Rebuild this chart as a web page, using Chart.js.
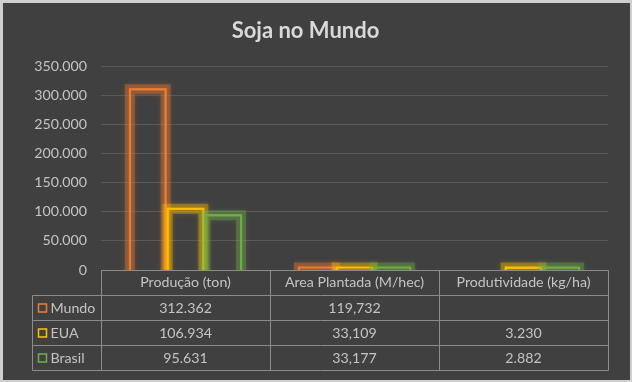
<!DOCTYPE html>
<html>
<head>
<meta charset="utf-8">
<script src="https://cdn.jsdelivr.net/npm/chart.js@4/dist/chart.umd.min.js"></script>
<style>
  html, body { margin: 0; padding: 0; background: #cfcfcf; width: 632px; height: 382px; overflow: hidden; }
  #wrap { position: absolute; left: 3px; top: 3px; width: 627px; height: 377px; background: #404040; }
  canvas { display: block; }
</style>
</head>
<body>
<div id="wrap"><canvas id="c" width="627" height="377"></canvas></div>
<script>
// ---- data ----
const categories = ['Produção (ton)', 'Area Plantada (M/hec)', 'Produtividade (kg/ha)'];
const seriesNames = ['Mundo', 'EUA', 'Brasil'];
const mundo  = [312362, 119.732, null];
const eua    = [106934, 33.109, 3230];
const brasil = [95631, 33.177, 2882];
const categoryDecimals = [0, 3, 0];
const yMax = 350000;
const yStep = 50000;
const chartTitle = 'Soja no Mundo';

// ---- style ----
const seriesColors = ['#ED7D31', '#FFC000', '#70AD47'];
const textColor = '#c4c4c4';
const titleColor = '#d9d9d9';
const gridColor = '#595959';
const tableLine = '#8c8c8c';
const FONT = 'Lato, "Open Sans", sans-serif';
const TEXT_SIZE = 14.2;

function fmt(v, d) {
  if (v === null || v === undefined) return '';
  if (d > 0) return v.toFixed(d).replace('.', ',');
  return String(Math.round(v)).replace(/\B(?=(\d{3})+(?!\d))/g, '.');
}
function rgba(hex, a) {
  const n = parseInt(hex.slice(1), 16);
  return `rgba(${(n >> 16) & 255},${(n >> 8) & 255},${n & 255},${a})`;
}

const seriesData = [mundo, eua, brasil];

const glowPlugin = {
  id: 'glow',
  afterDatasetsDraw(chart) {
    const ctx = chart.ctx;
    const area = chart.chartArea;
    ctx.save();
    ctx.beginPath();
    ctx.rect(area.left - 20, area.top - 20, area.right - area.left + 40, area.bottom - area.top + 20);
    ctx.clip();
    chart.data.datasets.forEach((ds, i) => {
      const meta = chart.getDatasetMeta(i);
      const c = seriesColors[i];
      meta.data.forEach((el, j) => {
        const v = ds.data[j];
        if (v === null || v === undefined) return;
        const p = el.getProps(['x', 'y', 'base', 'width'], true);
        const l = p.x - p.width / 2 + 1, r = p.x + p.width / 2 - 1;
        const t = Math.min(p.y + 1, p.base - 2);
        const path = () => {
          ctx.beginPath();
          ctx.moveTo(l, p.base + 6);
          ctx.lineTo(l, t);
          ctx.lineTo(r, t);
          ctx.lineTo(r, p.base + 6);
        };
        ctx.lineJoin = 'miter';
        ctx.shadowColor = rgba(c, 0.55);
        ctx.shadowBlur = 5;
        ctx.strokeStyle = rgba(c, 0.36);
        ctx.lineWidth = 10;
        path(); ctx.stroke();
        ctx.shadowBlur = 0;
        ctx.shadowColor = 'transparent';
        ctx.strokeStyle = c;
        ctx.lineWidth = 2;
        path(); ctx.stroke();
      });
    });
    ctx.restore();
  }
};

const tablePlugin = {
  id: 'dataTable',
  afterDraw(chart) {
    const ctx = chart.ctx;
    const xs = chart.scales.x;
    const area = chart.chartArea;
    const n = categories.length;
    const colW = (xs.right - xs.left) / n;
    const bounds = [];
    for (let i = 0; i <= n; i++) bounds.push(Math.round(xs.left + colW * i) + 0.5);
    const legendLeft = Math.round(xs.left - 69) + 0.5;
    const top = Math.round(area.bottom) + 0.5;
    const headerH = 24.5, rowH = 25;
    const rowTops = [];
    for (let r = 0; r <= seriesNames.length; r++) rowTops.push(Math.round(top + headerH + rowH * r) + 0.5);
    const bottom = rowTops[rowTops.length - 1];

    ctx.save();
    ctx.strokeStyle = tableLine;
    ctx.lineWidth = 1;
    ctx.beginPath();
    ctx.moveTo(bounds[0], top); ctx.lineTo(bounds[n], top);
    rowTops.forEach(y => { ctx.moveTo(legendLeft, y); ctx.lineTo(bounds[n], y); });
    bounds.forEach(x => { ctx.moveTo(x, top); ctx.lineTo(x, bottom); });
    ctx.moveTo(legendLeft, rowTops[0]); ctx.lineTo(legendLeft, bottom);
    ctx.stroke();

    ctx.fillStyle = textColor;
    ctx.font = TEXT_SIZE + 'px ' + FONT;
    ctx.textBaseline = 'middle';
    ctx.textAlign = 'center';
    categories.forEach((cat, i) => {
      ctx.fillText(cat, xs.getPixelForValue(i), top + headerH / 2);
    });
    seriesNames.forEach((name, r) => {
      const cy = rowTops[r] + rowH / 2;
      ctx.strokeStyle = seriesColors[r];
      ctx.lineWidth = 1.5;
      ctx.strokeRect(legendLeft + 6, Math.round(cy - 4), 8, 8);
      ctx.fillStyle = textColor;
      ctx.textAlign = 'left';
      ctx.fillText(name, legendLeft + 18, cy);
      ctx.textAlign = 'center';
      seriesData[r].forEach((v, i) => {
        ctx.fillText(fmt(v, categoryDecimals[i]), xs.getPixelForValue(i), cy);
      });
    });
    ctx.restore();
  }
};

new Chart(document.getElementById('c'), {
  type: 'bar',
  data: {
    labels: categories,
    datasets: seriesNames.map((name, i) => ({
      label: name,
      data: seriesData[i],
      backgroundColor: 'transparent',
      borderColor: seriesColors[i],
      borderWidth: 2,
      borderSkipped: 'start',
      categoryPercentage: 0.67,
      barPercentage: 1.0
    }))
  },
  options: {
    responsive: false,
    devicePixelRatio: 1,
    animation: false,
    layout: { padding: { left: 0, right: 22, top: 0, bottom: 110 } },
    plugins: {
      legend: { display: false },
      tooltip: { enabled: false },
      title: {
        display: true,
        text: chartTitle,
        color: titleColor,
        font: { family: FONT, size: 22, weight: 'bold', lineHeight: 1.2 },
        padding: { top: 15, bottom: 22 }
      }
    },
    scales: {
      x: {
        display: false,
        offset: true
      },
      y: {
        min: 0,
        max: yMax,
        afterFit(s) { s.width = 98; },
        ticks: {
          stepSize: yStep,
          color: textColor,
          padding: 14,
          font: { family: FONT, size: TEXT_SIZE },
          callback: v => fmt(v, 0)
        },
        grid: { color: gridColor, drawTicks: false, lineWidth: 1 },
        border: { display: false }
      }
    }
  },
  plugins: [glowPlugin, tablePlugin]
});
</script>
</body>
</html>
